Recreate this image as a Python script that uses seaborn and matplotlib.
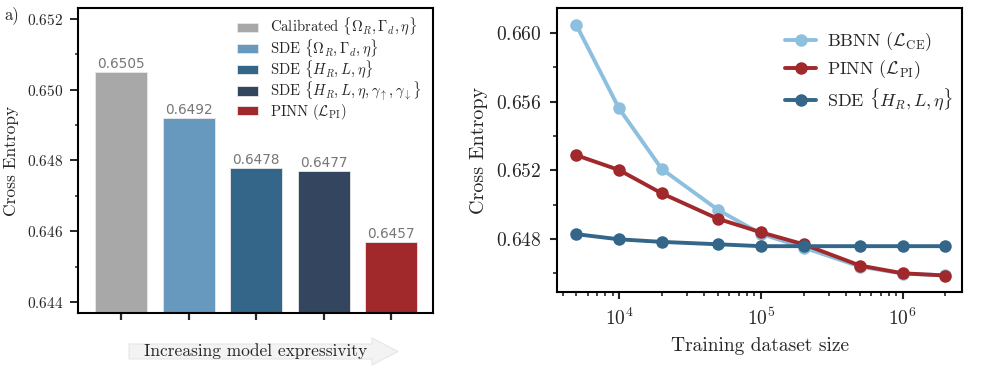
import numpy as np
import pandas as pd
import matplotlib
matplotlib.use('Agg')
import matplotlib.pyplot as plt
from matplotlib.patches import FancyArrow
import seaborn as sns

# bar panel data
bar_labels = [r'Calibrated $\{\Omega_R, \Gamma_d, \eta\}$',
              r'SDE $\{\Omega_R, \Gamma_d, \eta\}$',
              r'SDE $\{H_R, L, \eta\}$',
              r'SDE $\{H_R, L, \eta, \gamma_\uparrow, \gamma_\downarrow\}$',
              r'PINN $(\mathcal{L}_{\mathrm{PI}})$']
bar_values = [0.6505, 0.6492, 0.6478, 0.6477, 0.6457]
bar_colors = ['#a8a8a8', '#6699bd', '#336689', '#34465f', '#a1282b']

# line panel data
dataset_size = [5e3, 1e4, 2e4, 5e4, 1e5, 2e5, 5e5, 1e6, 2e6]
bbnn_ce = [0.66047, 0.65561, 0.65208, 0.64969, 0.64830, 0.64750, 0.64639, 0.64598, 0.64588]
pinn_ce = [0.65288, 0.65202, 0.65066, 0.64917, 0.64839, 0.64769, 0.64645, 0.64600, 0.64587]
sde_ce = [0.64828, 0.64798, 0.64783, 0.64769, 0.64758, 0.64758, 0.64758, 0.64758, 0.64758]
line_labels = [r'BBNN $(\mathcal{L}_{\mathrm{CE}})$',
               r'PINN $(\mathcal{L}_{\mathrm{PI}})$',
               r'SDE $\{H_R, L, \eta\}$']
line_colors = ['#8cc0de', '#a1282b', '#336689']


def main():
    sns.set_style('ticks')
    plt.rcParams['font.family'] = 'serif'
    plt.rcParams['font.serif'] = ['cmr10']
    plt.rcParams['mathtext.fontset'] = 'cm'
    plt.rcParams['axes.formatter.use_mathtext'] = True
    plt.rcParams['axes.unicode_minus'] = False

    fig = plt.figure(figsize=(9.97, 3.72), dpi=100)

    # ---- left: bar chart
    ax1 = fig.add_axes([0.0782, 0.1586, 0.3561, 0.8199])
    bars = pd.DataFrame({'model': bar_labels, 'ce': bar_values})
    sns.barplot(data=bars, x='model', y='ce', hue='model',
                palette=bar_colors, width=0.77, ax=ax1, legend=True,
                saturation=1, edgecolor='#e8e8e8', linewidth=0.6)
    for i, v in enumerate(bar_values):
        ax1.text(i, v + 0.00002, f'{v:.4f}', ha='center', va='bottom',
                 fontsize=9.8, color='#777777', family='DejaVu Sans')
    ax1.set_ylim(0.6437, 0.6523)
    ax1.set_xlim(-0.64, 4.62)
    ax1.set_yticks([0.644, 0.646, 0.648, 0.650, 0.652])
    ax1.set_yticks(np.arange(0.645, 0.652, 0.002), minor=True)
    ax1.set_xticklabels([])
    ax1.set_xlabel('')
    ax1.set_ylabel('Cross Entropy', fontsize=12.5, labelpad=6)
    ax1.tick_params(axis='y', labelsize=11, width=1.4, length=5.5, pad=5)
    ax1.tick_params(axis='y', which='minor', width=1.1, length=2.5)
    ax1.tick_params(axis='x', width=1.6, length=5)
    for s in ax1.spines.values():
        s.set_linewidth(1.5)
        s.set_color('black')
    ax1.legend(frameon=False, loc='upper right', bbox_to_anchor=(1.0, 1.012),
               fontsize=10.6, handlelength=1.4, handleheight=0.6,
               handletextpad=0.8, labelspacing=-0.08, borderaxespad=0.3,
               borderpad=0.5)
    fig.text(0.004, 0.96, 'a)', fontsize=12, va='center')

    arrow = FancyArrow(1.29, 0.205, 2.43, 0, width=0.15, head_width=0.27,
                       head_length=0.26, length_includes_head=False,
                       transform=fig.dpi_scale_trans, facecolor='#f3f3f3',
                       edgecolor='#e6e6e6', linewidth=0.8)
    fig.add_artist(arrow)
    fig.text(2.56 / 9.97, 0.205 / 3.72, 'Increasing model expressivity',
             ha='center', va='center', fontsize=12.5)

    # ---- right: line chart
    ax2 = fig.add_axes([0.5587, 0.2151, 0.4062, 0.7634])
    lines = pd.DataFrame({
        'size': dataset_size * 3,
        'ce': bbnn_ce + pinn_ce + sde_ce,
        'model': [line_labels[0]] * 9 + [line_labels[1]] * 9 + [line_labels[2]] * 9,
    })
    sns.lineplot(data=lines, x='size', y='ce', hue='model', palette=line_colors,
                 marker='o', markersize=9, linewidth=2.8, markeredgewidth=0,
                 ax=ax2)
    ax2.set_xscale('log')
    ax2.set_xlim(3656, 2.62e6)
    ax2.set_ylim(0.64491, 0.66146)
    ax2.set_yticks([0.648, 0.652, 0.656, 0.660])
    ax2.set_yticks([0.646, 0.650, 0.654, 0.658], minor=True)
    ax2.set_xlabel('Training dataset size', fontsize=14, labelpad=6)
    ax2.set_ylabel('Cross Entropy', fontsize=14.5, labelpad=6)
    ax2.tick_params(axis='both', labelsize=14, width=1.5, length=5, pad=6)
    ax2.tick_params(which='minor', width=1.2, length=3)
    for s in ax2.spines.values():
        s.set_linewidth(1.5)
        s.set_color('black')
    ax2.legend(frameon=False, loc='upper right', bbox_to_anchor=(1.01, 0.965),
               fontsize=13, handlelength=1.7, handletextpad=0.6,
               labelspacing=0.3, borderaxespad=0.5, borderpad=0.2)

    fig.savefig('out.png', dpi=100)


if __name__ == '__main__':
    main()
